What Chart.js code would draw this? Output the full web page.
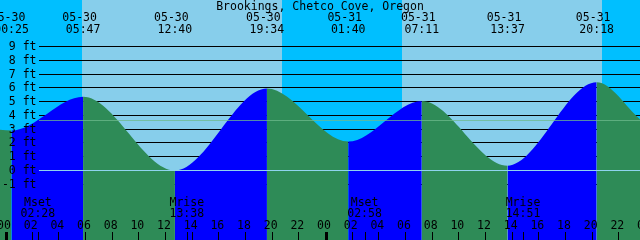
<!DOCTYPE html>
<html>
<head>
<meta charset="utf-8">
<script src="https://cdn.jsdelivr.net/npm/chart.js@4"></script>
<style>
    body { margin: 0; background: #87ceeb; }
    #wrap { width: 640px; height: 240px; position: relative; }
</style>
</head>
<body>
<div id="wrap"><canvas id="tide-chart"></canvas></div>
<script>
// * Tide graph for Brookings, Chetco Cove (XTide look)

const stationName = 'Brookings, Chetco Cove, Oregon'

// highs and lows, as labelled along the top
const extremeDates = ['05-30', '05-30', '05-30', '05-30', '05-31', '05-31', '05-31', '05-31']
const extremeTimes = ['00:25', '05:47', '12:40', '19:34', '01:40', '07:11', '13:37', '20:18']
const extremeFeet = [2.9, 5.35, 0.0, 5.95, 2.1, 5.05, 0.35, 6.4]

// where the curve leaves the picture on the left and right (hours from 05-30 00:00)
const edgeHours = [-0.45, 47.55]
const edgeFeet = [2.96, 3.72]

// depth lines and their labels
const feetTicks = [9, 8, 7, 6, 5, 4, 3, 2, 1, 0, -1]
const mslFeet = 3.65
const datumFeet = 0

// hour labels along the bottom
const hourLabels = ['00', '02', '04', '06', '08', '10', '12', '14', '16', '18', '20', '22']

// sun and moon
const sunriseDates = ['05-30', '05-31']
const sunriseTimes = ['05:41', '05:41']
const sunsetDates = ['05-30', '05-31']
const sunsetTimes = ['20:41', '20:41']
const moonEvents = ['Mset', 'Mrise', 'Mset', 'Mrise']
const moonDates = ['05-30', '05-30', '05-31', '05-31']
const moonTimes = ['02:28', '13:38', '02:58', '14:51']

const dayColor = '#87ceeb'
const nightColor = '#00bfff'
const floodColor = '#0000ff'
const ebbColor = '#2e8b57'
const font = '11.5px "DejaVu Sans Mono", monospace'

// hours since 05-30 00:00
function toHours(date, time) {
    const day = Number(date.slice(3)) - 30
    const [h, m] = time.split(':').map(Number)
    return day * 24 + h + m / 60
}

const extremeHours = extremeTimes.map((t, i) => toHours(extremeDates[i], t))
const tideData = [{ x: edgeHours[0], y: edgeFeet[0] }]
extremeHours.forEach((h, i) => tideData.push({ x: h, y: extremeFeet[i] }))
tideData.push({ x: edgeHours[1], y: edgeFeet[1] })

const xtidePlugin = {
    id: 'xtide',
    beforeDraw(chart) {
        const { ctx, chartArea: a, scales: { x } } = chart
        ctx.save()
        ctx.fillStyle = dayColor
        ctx.fillRect(a.left, a.top, a.width, a.height)
        const rises = sunriseTimes.map((t, i) => toHours(sunriseDates[i], t))
        const sets = sunsetTimes.map((t, i) => toHours(sunsetDates[i], t))
        const starts = [x.min, ...sets]
        const ends = [...rises, x.max]
        ctx.fillStyle = nightColor
        for (let i = 0; i < starts.length; i++) {
            const x0 = Math.round(x.getPixelForValue(starts[i]))
            const x1 = Math.round(x.getPixelForValue(ends[i]))
            ctx.fillRect(x0, a.top, x1 - x0, a.height)
        }
        ctx.restore()
    },
    beforeDatasetsDraw(chart) {
        const { ctx, chartArea: a, scales: { y } } = chart
        ctx.save()
        ctx.fillStyle = '#000'
        feetTicks.forEach((v) => {
            ctx.fillRect(39, Math.floor(y.getPixelForValue(v)), a.right - 39, 1)
        })
        ctx.restore()
    },
    afterDatasetsDraw(chart) {
        const { ctx, chartArea: a, scales: { x, y } } = chart
        ctx.save()
        // mean sea level and datum
        ctx.fillStyle = 'rgba(110, 185, 140, 0.75)'
        ctx.fillRect(39, Math.floor(y.getPixelForValue(mslFeet)), a.right - 39, 1)
        ctx.fillStyle = '#8fd3ee'
        ctx.fillRect(39, Math.floor(y.getPixelForValue(datumFeet)), a.right - 39, 1)

        ctx.fillStyle = '#000'
        ctx.font = font
        ctx.textBaseline = 'alphabetic'

        // title
        ctx.textAlign = 'center'
        ctx.fillText(stationName, 320, 10)

        // high / low labels
        extremeHours.forEach((h, i) => {
            const px = x.getPixelForValue(h)
            ctx.fillText(extremeDates[i], px - 3.5, 21)
            ctx.fillText(extremeTimes[i], px, 33)
        })

        // depth labels
        ctx.textAlign = 'right'
        feetTicks.forEach((v) => {
            ctx.fillText(v + ' ft', 36.5, Math.floor(y.getPixelForValue(v)) + 4)
        })

        // moon
        ctx.textAlign = 'center'
        moonEvents.forEach((name, i) => {
            const h = toHours(moonDates[i], moonTimes[i])
            const px = x.getPixelForValue(h)
            ctx.fillText(name, px - 1, 206)
            ctx.fillText(moonTimes[i], px - 1, 217)
            ctx.fillRect(Math.round(px) - 1, 232, 1, 8)
        })

        // hours
        for (let day = 0; day <= 2; day++) {
            hourLabels.forEach((label, i) => {
                const h = day * 24 + i * 2
                if (h > x.max + 1) return
                const px = x.getPixelForValue(h)
                ctx.fillText(label, px - 2, 229)
                if (i === 0) {
                    ctx.fillRect(Math.round(px) - 1, 232, 3, 8)
                } else {
                    ctx.fillRect(Math.round(px) - 1, 232, 1, 8)
                }
            })
        }
        ctx.restore()
    }
}

new Chart(document.getElementById('tide-chart'), {
    type: 'line',
    data: {
        datasets: [
            {
                data: tideData,
                borderColor: 'rgba(0, 0, 0, 0)',
                borderWidth: 0,
                pointRadius: 0,
                cubicInterpolationMode: 'monotone',
                tension: 0.4,
                fill: 'start',
                backgroundColor: ebbColor,
                segment: {
                    // rising water is blue, falling is green
                    backgroundColor: (c) => (c.p1.parsed.y > c.p0.parsed.y ? floodColor : ebbColor)
                }
            }
        ]
    },
    options: {
        responsive: true,
        maintainAspectRatio: false,
        animation: false,
        events: [],
        layout: { padding: 0 },
        plugins: { legend: { display: false }, tooltip: { enabled: false } },
        scales: {
            x: { type: 'linear', min: edgeHours[0], max: edgeHours[1], display: false },
            y: { min: -5.044, max: 12.373, display: false }
        }
    },
    plugins: [xtidePlugin]
})
</script>
</body>
</html>
